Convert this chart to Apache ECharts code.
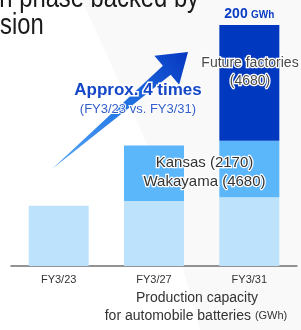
<!DOCTYPE html>
<html lang="en">
<head>
<meta charset="UTF-8">
<title>Production capacity</title>
<script src="https://cdn.jsdelivr.net/npm/echarts@6/dist/echarts.min.js"></script>
<style>html,body{margin:0;padding:0;background:#fff;}</style>
</head>
<body>
<div id="container" style="width:301px;height:330px;"></div>
<script>
    var categories = ['FY3/23', 'FY3/27', 'FY3/31'];
    // GWh, stacked from the bottom
    var existing = [50, 54, 57];
    var kansasWakayama = ['-', 46, 47];
    var futureFactories = ['-', '-', 96];
    var totalText = '200';

    var font = '"Liberation Sans", Arial, sans-serif';

    var myChart = echarts.init(document.getElementById('container'));

    // tapered arrow: zero width at the tail, a neck, then the head
    function arrowPoints(tail, tip, headLen, neckHalf, wingHalf) {
        var dx = tip[0] - tail[0], dy = tip[1] - tail[1];
        var len = Math.sqrt(dx * dx + dy * dy);
        var ux = dx / len, uy = dy / len;
        var nx = -uy, ny = ux;
        var cx = tip[0] - ux * headLen, cy = tip[1] - uy * headLen;
        return [
            tail,
            [cx + nx * neckHalf, cy + ny * neckHalf],
            [cx + nx * wingHalf, cy + ny * wingHalf],
            tip,
            [cx - nx * wingHalf, cy - ny * wingHalf],
            [cx - nx * neckHalf, cy - ny * neckHalf]
        ];
    }

    var tail = [52, 169], tip = [188, 52];

    function haloText(text, x, y, size, color, weight, halo) {
        return {
            type: 'text',
            x: x,
            y: y,
            z: 50,
            silent: true,
            style: {
                text: text,
                align: 'center',
                verticalAlign: 'middle',
                fontFamily: font,
                fontSize: size,
                fontWeight: weight || 'normal',
                lineHeight: size + 4,
                fill: color,
                stroke: halo ? '#fff' : null,
                lineWidth: halo || 0
            }
        };
    }

    myChart.setOption({
        backgroundColor: '#fff',
        animation: false,
        grid: {left: 11, right: 4, top: 25, bottom: 64},
        xAxis: {
            type: 'category',
            data: categories,
            axisTick: {show: false},
            axisLine: {lineStyle: {color: '#707070', width: 1.5}},
            axisLabel: {color: '#333', fontSize: 11, fontFamily: font, margin: 8}
        },
        yAxis: {type: 'value', min: 0, max: 200, show: false},
        series: [
            {
                name: 'existing', type: 'bar', stack: 'cap', barWidth: 60,
                data: existing, itemStyle: {color: '#bde3fc'}
            },
            {
                name: 'Kansas / Wakayama', type: 'bar', stack: 'cap',
                data: kansasWakayama, itemStyle: {color: '#5cb6fa'}
            },
            {
                name: 'Future factories', type: 'bar', stack: 'cap',
                data: futureFactories, itemStyle: {color: '#0039c0'},
                label: {
                    show: true,
                    position: 'top',
                    distance: 4,
                    formatter: '{a|' + totalText + '} {b|GWh}',
                    rich: {
                        a: {fontFamily: font, fontSize: 14, fontWeight: 'bold', color: '#0a3cc4'},
                        b: {fontFamily: font, fontSize: 10, fontWeight: 'bold', color: '#0a3cc4', padding: [2, 0, 0, 0]}
                    }
                }
            }
        ],
        graphic: [
            {
                // faint watermark behind the chart
                type: 'polygon', z: -10, silent: true,
                shape: {points: [[82, 0], [301, 0], [301, 330], [200, 330], [150, 150]]},
                style: {fill: '#f8f9f8'}
            },
            {
                type: 'text', x: 199, y: -1, scaleX: 0.82, silent: true,
                style: {text: 'expansion phase backed by', align: 'right', verticalAlign: 'middle',
                    fontFamily: font, fontSize: 29, fill: '#1a1a1a'}
            },
            {
                type: 'text', x: 0, y: 26, scaleX: 0.82, silent: true,
                style: {text: 'sion', align: 'left', verticalAlign: 'middle',
                    fontFamily: font, fontSize: 29, fill: '#1a1a1a'}
            },
            {
                type: 'polygon', z: 40, silent: true,
                shape: {points: arrowPoints(tail, tip, 28, 6, 19)},
                style: {
                    fill: new echarts.graphic.LinearGradient(tail[0], tail[1], tip[0], tip[1], [
                        {offset: 0, color: '#5aaaf5'},
                        {offset: 0.5, color: '#2479e6'},
                        {offset: 1, color: '#0636c0'}
                    ], true)
                }
            },
            haloText('Approx. 4 times', 138, 90, 17, '#1446c8', 'bold', 3),
            haloText('(FY3/23 vs. FY3/31)', 138, 109, 13, '#3560cc', 'normal', 2),
            haloText('Future factories\n(4680)', 250, 72, 14, '#4a4a4a', 'normal', 2.5),
            haloText('Kansas (2170)\nWakayama (4680)', 204.5, 172, 15, '#333', 'normal', 2.5),
            haloText('Production capacity', 197, 298, 14, '#333'),
            {
                type: 'text', x: 196, y: 316, silent: true,
                style: {
                    text: '{a|for automobile batteries }{b|(GWh)}',
                    align: 'center', verticalAlign: 'middle',
                    rich: {
                        a: {fontFamily: font, fontSize: 14, fill: '#333'},
                        b: {fontFamily: font, fontSize: 11, fill: '#333'}
                    }
                }
            }
        ]
    });
</script>
</body>
</html>
